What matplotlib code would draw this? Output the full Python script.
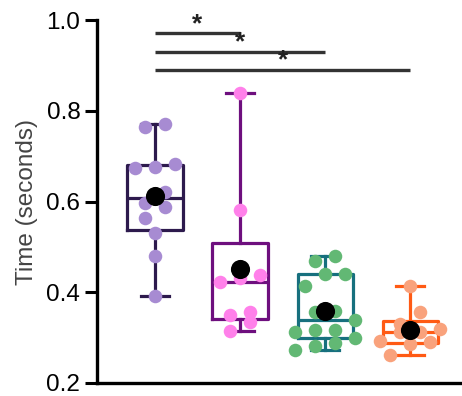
import numpy as np
import matplotlib
matplotlib.use("Agg")
import matplotlib.pyplot as plt
from matplotlib import cbook

# values (seconds)
group_a = [0.77, 0.765, 0.677, 0.675, 0.683, 0.62, 0.589, 0.596, 0.563, 0.53, 0.48, 0.391]
group_b = [0.84, 0.582, 0.431, 0.437, 0.422, 0.356, 0.349, 0.334, 0.314]
group_c = [0.47, 0.48, 0.44, 0.44, 0.413, 0.356, 0.358, 0.338, 0.312, 0.316,
           0.316, 0.30, 0.281, 0.288, 0.272]
group_d = [0.413, 0.356, 0.319, 0.312, 0.330, 0.312, 0.292, 0.286, 0.290, 0.262]
groups = [group_a, group_b, group_c, group_d]

line_colors = ["#2d1a4d", "#6e0f7e", "#17707e", "#ff5a14"]
dot_colors = ["#a78bd2", "#ff80ea", "#62b874", "#f9a27c"]

# significance comparisons: (group i, group j, bar height)
sig_pairs = [(0, 1, 0.971), (0, 2, 0.930), (0, 3, 0.890)]

plt.rcParams["font.family"] = ["Liberation Sans", "DejaVu Sans"]

fig = plt.figure(figsize=(4.62, 3.96), dpi=100)
ax = fig.add_axes([0.21, 0.033, 0.787, 0.916])
ax.set_xlim(-0.68, 3.59)
ax.set_ylim(0.2, 1.0)

# pixel scale used for the scatter spreading
px_x = 0.787 * 462 / (3.59 + 0.68)
px_y = 0.916 * 396 / 0.8
bin_h, spread = 13.0, 20.0


def spread_x(vals, pos):
    # prism-like: group close values into rows, spread each row symmetrically
    order = np.argsort(vals)
    xs = np.zeros(len(vals))
    rows = []
    for i in order:
        if rows and (vals[i] - vals[rows[-1][0]]) * px_y < bin_h:
            rows[-1].append(i)
        else:
            rows.append([i])
    for row in rows:
        n = len(row)
        for k, i in enumerate(row):
            xs[i] = pos + (k - (n - 1) / 2) * spread / px_x
    return xs


for i, vals in enumerate(groups):
    vals = np.array(vals)
    st = cbook.boxplot_stats(vals, whis=(0, 100))[0]
    q1, q3 = np.percentile(vals, [25, 75], method="weibull")
    st["q1"], st["q3"] = q1, q3
    lc = line_colors[i]
    ax.bxp([st], positions=[i], widths=0.65, showfliers=False, showcaps=True,
           boxprops=dict(color=lc, linewidth=2.3),
           medianprops=dict(color=lc, linewidth=2.3),
           whiskerprops=dict(color=lc, linewidth=2.3),
           capprops=dict(color=lc, linewidth=2.3), capwidths=0.33)
    ax.scatter(spread_x(vals, i), vals, s=95, color=dot_colors[i], zorder=3, linewidths=0)
    ax.scatter([i], [vals.mean()], s=190, color="black", zorder=4, linewidths=0)

for a, b, h in sig_pairs:
    ax.plot([a, b], [h, h], color="#333333", lw=2.4, solid_capstyle="butt")
    ax.text((a + b) / 2, h - 0.006, "*", ha="center", va="bottom", fontsize=19,
            fontweight="bold", color="#222222")

ax.spines["top"].set_visible(False)
ax.spines["right"].set_visible(False)
ax.spines["left"].set_linewidth(2.4)
ax.spines["bottom"].set_linewidth(2.4)
ax.set_xticks([])
ax.set_yticks([0.2, 0.4, 0.6, 0.8, 1.0])
ax.set_yticklabels(["0.2", "0.4", "0.6", "0.8", "1.0"])
ax.tick_params(axis="y", length=9, width=2.2, labelsize=17.5, pad=3)
ax.set_ylabel("Time (seconds)", fontsize=17.5, color="#444444", labelpad=6)

fig.savefig("out.png", dpi=100)
